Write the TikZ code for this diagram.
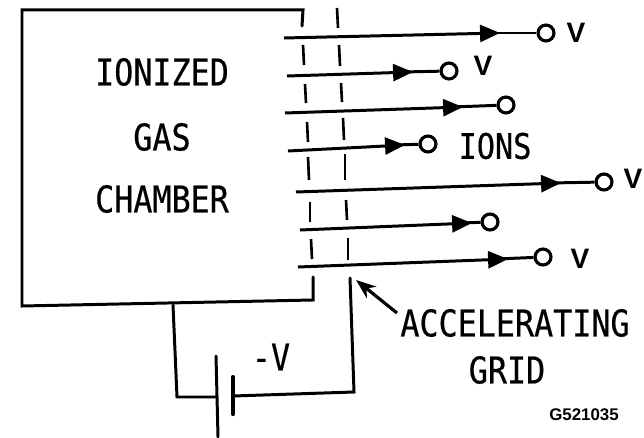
\documentclass[tikz,border=0pt]{standalone}
\usepackage{fontspec}
\usepackage{tikz}
\usetikzlibrary{arrows.meta}
\newfontfamily\labelfont[FakeStretch=0.86, FakeBold=0.5]{DejaVu Sans Mono}
\setsansfont{Liberation Sans}
\tikzset{
  wire/.style={line width=1.7pt, line cap=round},
  gridbar/.style={line width=1.5pt},
  ionline/.style={line width=1.7pt},
  ionhead/.style={line width=1.7pt, -{Triangle[length=20*0.567pt, width=17*0.567pt]}},
  ionend/.style={circle, draw, line width=1.8pt, fill=white, minimum size=16*0.567pt, inner sep=0pt},
  biglabel/.style={font=\labelfont\fontsize{21}{21}\selectfont, inner sep=0pt},
  smalllabel/.style={font=\sffamily\bfseries\fontsize{16}{16}\selectfont, inner sep=0pt},
  tag/.style={font=\sffamily\bfseries\fontsize{9.6}{9.6}\selectfont, inner sep=0pt}
}
\begin{document}
\begin{tikzpicture}[x=0.02cm, y=-0.02cm]
  \useasboundingbox (0,0) rectangle (644,438);
  % CHAMBER:
  \coordinate (boxa) at (302,26);
  \coordinate (boxb) at (303,10);
  \coordinate (boxc) at (22,10);
  \coordinate (boxd) at (22,306);
  \coordinate (boxe) at (313,300);
  \coordinate (boxf) at (313,277);
  \draw[wire] (boxa) -- (boxb) -- (boxc) -- (boxd) -- (boxe) -- (boxf);

  % GRID:
  \draw[gridbar] (303,45) -- (304,65);
  \draw[gridbar] (305,84) -- (306,103);
  \draw[gridbar] (307,122) -- (308,142);
  \draw[gridbar] (308,157) -- (309,180);
  \draw[gridbar] (310,202) -- (310,222);
  \draw[gridbar] (311,239) -- (312,259);
  \draw[gridbar] (337,8) -- (338,28);
  \draw[gridbar] (339,45) -- (340,66);
  \draw[gridbar] (341,83) -- (342,102);
  \draw[gridbar] (343,118) -- (344,140);
  \draw[gridbar] (345,154) -- (345,180);
  \draw[gridbar] (346,200) -- (347,220);
  \draw[gridbar] (348,238) -- (348,260);

  % IONS:
  \coordinate (inia) at (284,38);
  \coordinate (inib) at (287,76);
  \coordinate (inic) at (285,113);
  \coordinate (inid) at (288,151);
  \coordinate (inie) at (296,192);
  \coordinate (inif) at (300,230);
  \coordinate (inig) at (298,267);
  \coordinate (tipa) at (500,33);
  \coordinate (tipb) at (413,72);
  \coordinate (tipc) at (463,107);
  \coordinate (tipd) at (405,145);
  \coordinate (tipe) at (561,183);
  \coordinate (tipf) at (472,223);
  \coordinate (tipg) at (508,259);
  \draw[ionhead] (inia) -- (tipa);
  \draw[ionhead] (inib) -- (tipb);
  \draw[ionhead] (inic) -- (tipc);
  \draw[ionhead] (inid) -- (tipd);
  \draw[ionhead] (inie) -- (tipe);
  \draw[ionhead] (inif) -- (tipf);
  \draw[ionhead] (inig) -- (tipg);
  \node[ionend] (enda) at (546,33) {};
  \node[ionend] (endb) at (449,71) {};
  \node[ionend] (endc) at (506,105) {};
  \node[ionend] (endd) at (428,144) {};
  \node[ionend] (ende) at (604,182) {};
  \node[ionend] (endf) at (490,222) {};
  \node[ionend] (endg) at (543,257) {};
  \draw[ionline] ([xshift=-6]tipa) -- (enda);
  \draw[ionline] ([xshift=-6]tipb) -- (endb);
  \draw[ionline] ([xshift=-6]tipc) -- (endc);
  \draw[ionline] ([xshift=-6]tipd) -- (endd);
  \draw[ionline] ([xshift=-6]tipe) -- (ende);
  \draw[ionline] ([xshift=-6]tipf) -- (endf);
  \draw[ionline] ([xshift=-6]tipg) -- (endg);

  % BATTERY:
  \coordinate (wirea) at (173,305);
  \coordinate (wireb) at (177,397);
  \coordinate (wirec) at (216,397);
  \coordinate (wired) at (233,396);
  \coordinate (wiree) at (354,392);
  \coordinate (wiref) at (350,278);
  \coordinate (platea) at (216,356);
  \coordinate (plateb) at (218,437);
  \coordinate (platec) at (233,377);
  \coordinate (plated) at (233,414);
  \draw[wire] (wirea) -- (wireb) -- (wirec);
  \draw[wire] (wired) -- (wiree) -- (wiref);
  \draw[wire] (platea) -- (plateb);
  \draw[wire, line width=2.4pt] (platec) -- (plated);

  % LABELS:
  \node[biglabel] (ionized) at (162,72) {IONIZED};
  \node[biglabel] (gas) at (162,137) {GAS};
  \node[biglabel] (chamber) at (162,199) {CHAMBER};
  \node[biglabel, font=\labelfont\fontsize{20}{20}\selectfont] (ions) at (495,146) {IONS};
  \node[biglabel] (accel) at (515,323) {ACCELERATING};
  \node[biglabel] (grid) at (507,370) {GRID};
  \node[biglabel] (minusv) at (271,357) {-V};
  \node[smalllabel] (va) at (576,33) {V};
  \node[smalllabel] (vb) at (483,66) {V};
  \node[smalllabel] (vc) at (633,179) {V};
  \node[smalllabel] (vd) at (580,259) {V};
  \node[tag] (code) at (584,415) {G521035};

  % POINTER
  \coordinate (ptra) at (397,313);
  \coordinate (ptrb) at (356,280);
  \draw[-{Stealth[length=20*0.567pt, width=15*0.567pt]}, line width=1.8pt] (ptra) -- (ptrb);
\end{tikzpicture}
\end{document}
